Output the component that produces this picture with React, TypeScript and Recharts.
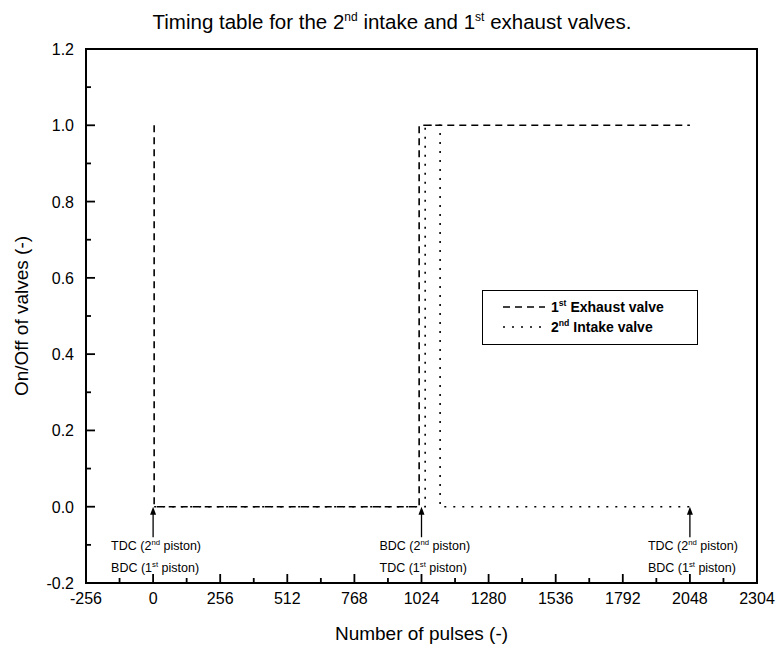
import React from 'react';
import { LineChart, Line, XAxis, YAxis, ReferenceLine, ReferenceArea, Legend } from 'recharts';

// step traces (pulse count, valve state)
const exhaustX = [4, 4, 1015, 1015, 2048];
const exhaustY = [1, 0, 0, 1, 1];
const intakeX = [4, 1038, 1038, 1095, 1095, 2048];
const intakeY = [0, 0, 1, 1, 0, 0];

const xTicks = [-256, -128, 0, 128, 256, 384, 512, 640, 768, 896, 1024, 1152, 1280, 1408, 1536, 1664, 1792, 1920, 2048, 2176, 2304];
const xLabels = [-256, 0, 256, 512, 768, 1024, 1280, 1536, 1792, 2048, 2304];
const yTicks = [-0.2, -0.1, 0, 0.1, 0.2, 0.3, 0.4, 0.5, 0.6, 0.7, 0.8, 0.9, 1.0, 1.1, 1.2];
const yLabels = [-0.2, 0, 0.2, 0.4, 0.6, 0.8, 1.0, 1.2];

// piston position markers under the curves
const markerX = [0, 1024, 2048];
const markerRow1 = [['TDC (2', 'nd', ' piston)'], ['BDC (2', 'nd', ' piston)'], ['TDC (2', 'nd', ' piston)']];
const markerRow2 = [['BDC (1', 'st', ' piston)'], ['TDC (1', 'st', ' piston)'], ['BDC (1', 'st', ' piston)']];
const markerBottom = -0.08;

const exhaustData = exhaustX.map((x, i) => ({ x, y: exhaustY[i] }));
const intakeData = intakeX.map((x, i) => ({ x, y: intakeY[i] }));

const FONT = '"Liberation Sans", Arial, Helvetica, sans-serif';

const isMajorX = (v: number) => xLabels.includes(v);
const isMajorY = (v: number) => yLabels.some((l) => Math.abs(l - v) < 1e-6);

const XTick = (props: any) => {
  const { x, y, payload } = props;
  if (!isMajorX(payload.value)) return <g />;
  return (
    <text x={x} y={y + 21} textAnchor="middle" fontSize={16} fontFamily={FONT} fill="#000">
      {payload.value}
    </text>
  );
};

const YTick = (props: any) => {
  const { x, y, payload } = props;
  if (!isMajorY(payload.value)) return <g />;
  return (
    <text x={x - 12} y={y + 6} textAnchor="end" fontSize={16} fontFamily={FONT} fill="#000">
      {payload.value.toFixed(1)}
    </text>
  );
};

// inward tick marks, drawn at the frame edge
const xTickMark = (major: boolean) => (p: any) => {
  const bottom = Math.max(p.y1, p.y2);
  return <path d={`M${p.x1},${bottom}V${bottom - (major ? 9 : 5)}`} stroke="#000" strokeWidth={1.8} fill="none" />;
};
const yTickMark = (major: boolean) => (p: any) => {
  const left = Math.min(p.x1, p.x2);
  return <path d={`M${left},${p.y1}H${left + (major ? 9 : 5)}`} stroke="#000" strokeWidth={1.8} fill="none" />;
};

const supText = (parts: string[], x: number, y: number, size: number, weight: string = 'normal') => (
  <text x={x} y={y} fontSize={size} fontFamily={FONT} fontWeight={weight} fill="#000">
    {parts[0]}
    <tspan dy={-size * 0.4} fontSize={size * 0.62}>{parts[1]}</tspan>
    <tspan dy={size * 0.4}>{parts[2]}</tspan>
  </text>
);

const arrowShape = (i: number) => (p: any) => {
  const x = p.x1;
  const top = Math.min(p.y1, p.y2);
  const bottom = Math.max(p.y1, p.y2);
  return (
    <g>
      <line x1={x} x2={x} y1={bottom} y2={top + 6} stroke="#000" strokeWidth={1.3} />
      <path d={`M${x},${top} L${x - 3},${top + 8} L${x + 3},${top + 8} Z`} fill="#000" />
      {supText(markerRow1[i], x - 42, bottom + 13, 12.5)}
      {supText(markerRow2[i], x - 42, bottom + 35, 12.5)}
    </g>
  );
};

const LegendBox = () => (
  <div style={{ border: '1.5px solid #000', background: '#fff', padding: '5px 0 8px 18px', fontFamily: FONT, width: 196 }}>
    {[
      { dash: '7 5', parts: ['1', 'st', ' Exhaust valve'] },
      { dash: '2 7', parts: ['2', 'nd', ' Intake valve'] },
    ].map((row, i) => (
      <svg key={i} width={190} height={20} style={{ display: 'block' }}>
        <line x1={2} x2={44} y1={11} y2={11} stroke="#000" strokeWidth={1.5} strokeDasharray={row.dash} />
        {supText(row.parts, 50, 16, 14, 'bold')}
      </svg>
    ))}
  </div>
);

export default function App() {
  return (
    <div style={{ position: 'absolute', left: 0, top: 0, width: 781, height: 653, background: '#fff' }}>
      <LineChart width={781} height={653} margin={{ top: 49, right: 24, bottom: 0, left: 0 }}>
        <text x={392} y={29} textAnchor="middle" fontSize={20.5} fontFamily={FONT} fill="#000">
          Timing table for the 2<tspan dy={-8} fontSize={12}>nd</tspan>
          <tspan dy={8}> intake and 1</tspan>
          <tspan dy={-8} fontSize={12}>st</tspan>
          <tspan dy={8}> exhaust valves.</tspan>
        </text>
        <XAxis
          dataKey="x"
          type="number"
          domain={[-256, 2304]}
          ticks={xTicks}
          interval={0}
          allowDataOverflow
          height={70}
          tickSize={0}
          tickMargin={0}
          tickLine={false}
          tick={<XTick />}
          axisLine={false}
          label={{ value: 'Number of pulses (-)', position: 'insideBottom', offset: 13, fontSize: 19, fontFamily: FONT, fill: '#000' }}
        />
        <YAxis
          dataKey="y"
          type="number"
          domain={[-0.2, 1.2]}
          ticks={yTicks}
          interval={0}
          allowDataOverflow
          width={86}
          tickSize={0}
          tickMargin={0}
          tickLine={false}
          tick={<YTick />}
          axisLine={false}
          label={{ value: 'On/Off of valves (-)', angle: -90, position: 'insideLeft', offset: 21, fontSize: 19, fontFamily: FONT, fill: '#000', style: { textAnchor: 'middle' } }}
        />
        <ReferenceArea x1={-256} x2={2304} y1={-0.2} y2={1.2} fill="none" fillOpacity={0} stroke="#000" strokeWidth={2} />
        {xTicks.map((v) => (
          <ReferenceLine key={'xt' + v} x={v} ifOverflow="visible" shape={xTickMark(isMajorX(v))} />
        ))}
        {yTicks.map((v) => (
          <ReferenceLine key={'yt' + v} y={v} ifOverflow="visible" shape={yTickMark(isMajorY(v))} />
        ))}
        {markerX.map((m, i) => (
          <ReferenceLine
            key={'m' + m}
            segment={[{ x: m, y: markerBottom }, { x: m, y: 0 }]}
            ifOverflow="visible"
            shape={arrowShape(i)}
          />
        ))}
        <Line
          data={exhaustData}
          dataKey="y"
          name="1st Exhaust valve"
          type="linear"
          stroke="#000"
          strokeWidth={1.6}
          strokeDasharray="7 5"
          dot={false}
          isAnimationActive={false}
        />
        <Line
          data={intakeData}
          dataKey="y"
          name="2nd Intake valve"
          type="linear"
          stroke="#000"
          strokeWidth={1.6}
          strokeDasharray="2 7"
          dot={false}
          isAnimationActive={false}
        />
        <Legend
          layout="vertical"
          align="center"
          verticalAlign="middle"
          content={<LegendBox />}
          wrapperStyle={{ position: 'absolute', left: 482, top: 290, width: 'auto' }}
        />
      </LineChart>
    </div>
  );
}
